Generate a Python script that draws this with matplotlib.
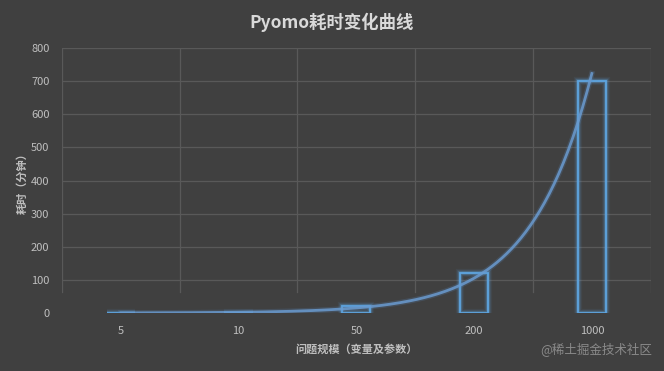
import numpy as np
import matplotlib
matplotlib.use('Agg')
import matplotlib.pyplot as plt

plt.rcParams['font.family'] = ['Noto Sans CJK SC', 'DejaVu Sans']

# data
categories = ['5', '10', '50', '200', '1000']
minutes = [0.5, 1, 20, 120, 700]
y_ticks = [0, 100, 200, 300, 400, 500, 600, 700, 800]

bg = '#404040'
grid_c = '#595959'
text_c = '#bfbfbf'
blue = '#5ea5e0'

fig = plt.figure(figsize=(6.64, 3.71), dpi=100, facecolor=bg)
ax = fig.add_axes([0.0934, 0.1563, 0.8866, 0.7143], facecolor=bg)

x = np.arange(1, len(categories) + 1)

# hollow bars with a soft glow
for lw, a in [(6, 0.08), (4, 0.16), (2.6, 0.3), (1.3, 1.0)]:
    ax.bar(x, minutes, width=0.24, fill=False, edgecolor=blue,
           linewidth=lw, alpha=a, zorder=3)

# exponential trendline (least squares on log values, like Excel)
b, a = np.polyfit(x, np.log(minutes), 1)
xs = np.linspace(1, 5, 200)
ys = np.exp(a + b * xs)
ax.plot(xs, ys, color='#5b8fc8', linewidth=4, alpha=0.2, zorder=4)
ax.plot(xs, ys, color='#6a9bd0', linewidth=2, alpha=0.85, zorder=4)

ax.set_xlim(0.5, 5.5)
ax.set_ylim(0, 800)
ax.set_xticks(x)
ax.set_xticklabels(categories)
ax.set_yticks(y_ticks)
ax.tick_params(length=0, colors=text_c, labelsize=8)
ax.tick_params(axis='y', pad=9)
ax.tick_params(axis='x', pad=9)

for yv in y_ticks[1:]:
    ax.axhline(yv, color=grid_c, linewidth=0.9, zorder=1)
for xv in np.arange(0.5, 6.0, 1.0):
    ax.axvline(xv, ymin=0.08, ymax=1, color=grid_c, linewidth=0.9, zorder=1)

for s in ax.spines.values():
    s.set_visible(False)

fig.text(0.5, 0.94, 'Pyomo耗时变化曲线', ha='center', va='center',
         color='#d9d9d9', fontsize=12.5, fontweight='bold')
ax.set_xlabel('问题规模（变量及参数）', color=text_c, fontsize=8,
              fontweight='bold', labelpad=5)
ax.set_ylabel('耗时（分钟）', color=text_c, fontsize=8,
              fontweight='bold', labelpad=2)

fig.text(0.982, 0.06, '@稀土掘金技术社区', ha='right', va='center',
         color='#8a8a8a', fontsize=9)

fig.savefig('out.png', dpi=100, facecolor=bg)
